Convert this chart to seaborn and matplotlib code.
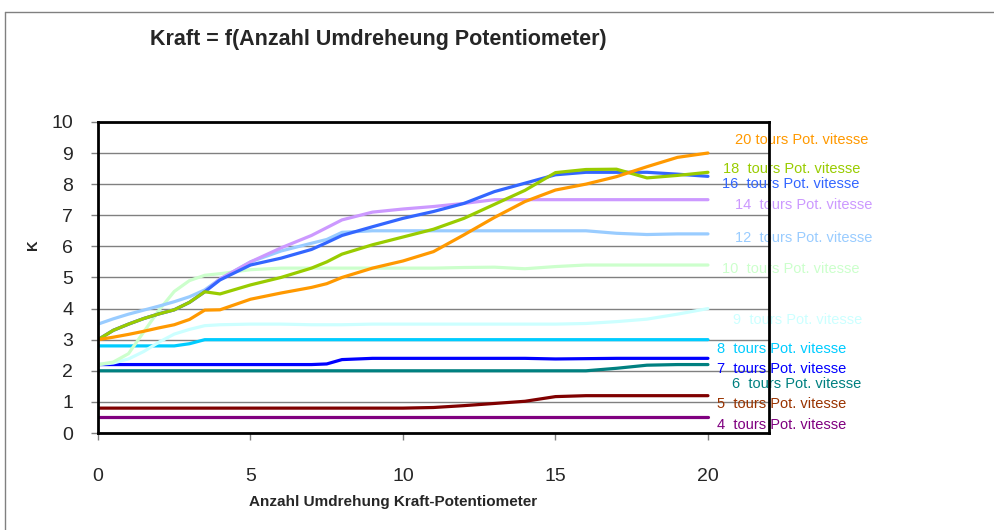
import pandas as pd
import seaborn as sns
import matplotlib.pyplot as plt
from matplotlib.lines import Line2D

# x positions (turns of the force potentiometer)
turns = [0, 0.5, 1, 1.5, 2, 2.5, 3, 3.5, 4, 5, 6, 7, 7.5, 8, 9, 10, 11, 12, 13, 14, 15, 16, 17, 18, 19, 20]

# force curves, one per speed-potentiometer setting
k_4 = [0.5] * 26
k_5 = [0.8, 0.8, 0.8, 0.8, 0.8, 0.8, 0.8, 0.8, 0.8, 0.8, 0.8, 0.8, 0.8, 0.8, 0.8, 0.8,
       0.82, 0.88, 0.95, 1.02, 1.17, 1.2, 1.2, 1.2, 1.2, 1.2]
k_6 = [2.0, 2.0, 2.0, 2.0, 2.0, 2.0, 2.0, 2.0, 2.0, 2.0, 2.0, 2.0, 2.0, 2.0, 2.0, 2.0,
       2.0, 2.0, 2.0, 2.0, 2.0, 2.0, 2.08, 2.18, 2.2, 2.2]
k_7 = [2.2, 2.2, 2.2, 2.2, 2.2, 2.2, 2.2, 2.2, 2.2, 2.2, 2.2, 2.2, 2.22, 2.36, 2.4, 2.4,
       2.4, 2.4, 2.4, 2.4, 2.38, 2.39, 2.4, 2.4, 2.4, 2.4]
k_8 = [2.8, 2.8, 2.8, 2.8, 2.8, 2.8, 2.87, 3.0, 3.0, 3.0, 3.0, 3.0, 3.0, 3.0, 3.0, 3.0,
       3.0, 3.0, 3.0, 3.0, 3.0, 3.0, 3.0, 3.0, 3.0, 3.0]
k_9 = [2.2, 2.25, 2.38, 2.62, 2.92, 3.18, 3.33, 3.45, 3.48, 3.5, 3.5, 3.48, 3.48, 3.48,
       3.5, 3.5, 3.5, 3.5, 3.5, 3.5, 3.5, 3.52, 3.58, 3.66, 3.82, 4.0]
k_10 = [2.2, 2.28, 2.55, 3.25, 3.95, 4.55, 4.9, 5.07, 5.12, 5.25, 5.3, 5.3, 5.3, 5.3,
        5.3, 5.3, 5.3, 5.32, 5.33, 5.28, 5.35, 5.4, 5.4, 5.4, 5.4, 5.4]
k_12 = [3.5, 3.67, 3.82, 3.95, 4.08, 4.22, 4.38, 4.6, 4.95, 5.5, 5.85, 6.1, 6.22, 6.45,
        6.5, 6.5, 6.5, 6.5, 6.5, 6.5, 6.5, 6.5, 6.42, 6.38, 6.4, 6.4]
k_14 = [3.0, 3.3, 3.5, 3.68, 3.83, 3.96, 4.2, 4.54, 4.95, 5.5, 5.95, 6.35, 6.6, 6.85,
        7.1, 7.2, 7.28, 7.38, 7.5, 7.5, 7.5, 7.5, 7.5, 7.5, 7.5, 7.5]
k_16 = [3.0, 3.3, 3.5, 3.68, 3.83, 3.96, 4.2, 4.54, 4.92, 5.4, 5.62, 5.9, 6.12, 6.35,
        6.63, 6.9, 7.12, 7.38, 7.76, 8.03, 8.3, 8.38, 8.38, 8.38, 8.32, 8.25]
k_18 = [3.0, 3.3, 3.5, 3.68, 3.83, 3.96, 4.2, 4.54, 4.47, 4.76, 5.0, 5.3, 5.5, 5.75,
        6.05, 6.3, 6.55, 6.9, 7.35, 7.8, 8.37, 8.47, 8.48, 8.2, 8.28, 8.38]
k_20 = [3.0, 3.08, 3.17, 3.27, 3.38, 3.48, 3.65, 3.95, 3.96, 4.3, 4.5, 4.68, 4.8, 5.0,
        5.3, 5.53, 5.83, 6.37, 6.93, 7.44, 7.81, 8.0, 8.24, 8.56, 8.86, 9.0]

series_names = ["4", "5", "6", "7", "8", "9", "10", "12", "14", "16", "18", "20"]
series_values = [k_4, k_5, k_6, k_7, k_8, k_9, k_10, k_12, k_14, k_16, k_18, k_20]
line_colors = ["#800080", "#800000", "#008080", "#0000FF", "#00CCFF", "#CCFFFF",
               "#CCFFCC", "#99CCFF", "#CC99FF", "#3366FF", "#99CC00", "#FF9900"]
label_colors = ["#800080", "#993300", "#008080", "#0000FF", "#00CCFF", "#CCFFFF",
                "#CCFFCC", "#99CCFF", "#CC99FF", "#3366FF", "#99CC00", "#FF9900"]
label_texts = ["4  tours Pot. vitesse", "5  tours Pot. vitesse", "6  tours Pot. vitesse",
               "7  tours Pot. vitesse", "8  tours Pot. vitesse", "9  tours Pot. vitesse",
               "10  tours Pot. vitesse", "12  tours Pot. vitesse", "14  tours Pot. vitesse",
               "16  tours Pot. vitesse", "18  tours Pot. vitesse", "20 tours Pot. vitesse"]
# where Excel put each data label (data coords)
label_x = [20.3, 20.3, 20.79, 20.3, 20.3, 20.82, 20.46, 20.89, 20.89, 20.46, 20.49, 20.89]
label_y = [0.26, 0.93, 1.58, 2.06, 2.7, 3.63, 5.27, 6.27, 7.33, 8.01, 8.49, 9.42]

# long table for seaborn
frames = []
for name, vals in zip(series_names, series_values):
    frames.append(pd.DataFrame({"turns": turns, "K": vals, "serie": name}))
data = pd.concat(frames, ignore_index=True)

sns.set_style("white")
plt.rcParams['font.family'] = ['Liberation Sans', 'DejaVu Sans']

fig = plt.figure(figsize=(9.94, 5.30), dpi=100)
ax = fig.add_axes([0.0986, 0.183, 0.675, 0.587])

sns.lineplot(data=data, x="turns", y="K", hue="serie", hue_order=series_names,
             palette=dict(zip(series_names, line_colors)), linewidth=2.3,
             legend=False, ax=ax)

ax.set_xlim(0, 22)
ax.set_ylim(0, 10)
ax.set_xticks([0, 5, 10, 15, 20])
ax.set_yticks(range(0, 11))
ax.yaxis.grid(True, color="#808080", linewidth=1)
ax.set_axisbelow(True)
ax.tick_params(axis="y", direction="out", length=5, width=1, color="#808080",
               labelsize=14, pad=13, left=True)
ax.tick_params(axis="x", direction="out", length=5, width=1, color="#808080",
               labelsize=14, pad=20, bottom=True)
for sp in ax.spines.values():
    sp.set_color("black")
    sp.set_linewidth(2)
ax.set_xlabel("")
ax.set_ylabel("")

for txt, col, lx, ly in zip(label_texts, label_colors, label_x, label_y):
    ax.text(lx, ly, txt, color=col, fontsize=10.5, ha="left", va="center",
            clip_on=False, zorder=2)

fig.text(150 / 994, 1 - 40 / 530, "Kraft = f(Anzahl Umdreheung Potentiometer)",
         fontsize=15.5, fontweight="bold", ha="left", va="center")
fig.text(393 / 994, 1 - 502 / 530, "Anzahl Umdrehung Kraft-Potentiometer",
         fontsize=11, fontweight="bold", ha="center", va="center")
fig.text(33 / 994, 1 - 245 / 530, "K", fontsize=10.5, fontweight="bold",
         ha="center", va="center", rotation=90)

# chart area frame (runs off the right and bottom of the picture)
top = 1 - 11.5 / 530
left = 4.5 / 994
fig.add_artist(Line2D([left, left], [0, top], color="#808080", linewidth=1))
fig.add_artist(Line2D([left, 1], [top, top], color="#808080", linewidth=1))

plt.savefig("out.png", dpi=100)
